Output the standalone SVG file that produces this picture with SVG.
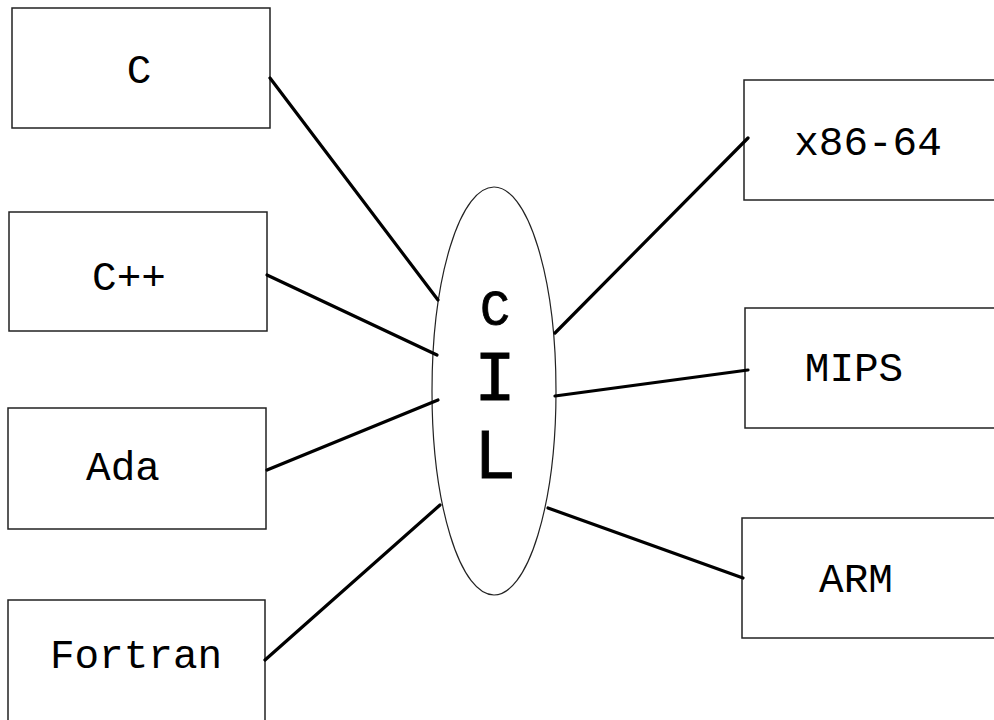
<svg xmlns="http://www.w3.org/2000/svg" width="994" height="720" viewBox="0 0 994 720">
<style>
.box{fill:#fff;stroke:#222;stroke-width:1.5}
.lbl{font-family:"Liberation Mono","Courier New",monospace;font-size:41px;fill:#000;text-anchor:middle}
.big{font-family:"Liberation Mono","Courier New",monospace;fill:#000;text-anchor:middle;stroke:#000;stroke-width:0.8}
.conn line{stroke:#000;stroke-width:3.2;stroke-linecap:round}
</style>
<rect width="994" height="720" fill="#fff"/>
<g id="C"><rect class="box" x="12" y="8" width="258" height="120"/><text class="lbl" x="139" y="83">C</text></g>
<g id="Cpp"><rect class="box" x="9" y="212" width="258" height="119"/><text class="lbl" x="129" y="290">C++</text></g>
<g id="Ada"><rect class="box" x="8" y="408" width="258" height="121"/><text class="lbl" x="123" y="480">Ada</text></g>
<g id="Fortran"><rect class="box" x="8" y="600" width="257" height="125"/><text class="lbl" x="136" y="668">Fortran</text></g>
<g id="x86"><rect class="box" x="744" y="80" width="260" height="120"/><text class="lbl" x="868" y="155">x86-64</text></g>
<g id="MIPS"><rect class="box" x="745" y="308" width="260" height="120"/><text class="lbl" x="854" y="381">MIPS</text></g>
<g id="ARM"><rect class="box" x="742" y="518" width="262" height="120"/><text class="lbl" x="856" y="592">ARM</text></g>
<g id="CIL"><ellipse cx="494" cy="391" rx="62" ry="204" fill="#fff" stroke="#222" stroke-width="1.2"/>
<text class="big" x="495" y="325" font-size="50">C</text>
<text class="big" x="495" y="400" font-size="70">I</text>
<text class="big" x="495" y="478" font-size="70">L</text></g>
<g class="conn">
<line x1="270" y1="78" x2="438" y2="300"/>
<line x1="267" y1="275" x2="437" y2="355"/>
<line x1="267" y1="470" x2="438" y2="400"/>
<line x1="265" y1="660" x2="440" y2="505"/>
<line x1="555" y1="333" x2="748" y2="138"/>
<line x1="555" y1="396" x2="748" y2="370"/>
<line x1="548" y1="508" x2="743" y2="578"/>
</g>
</svg>
